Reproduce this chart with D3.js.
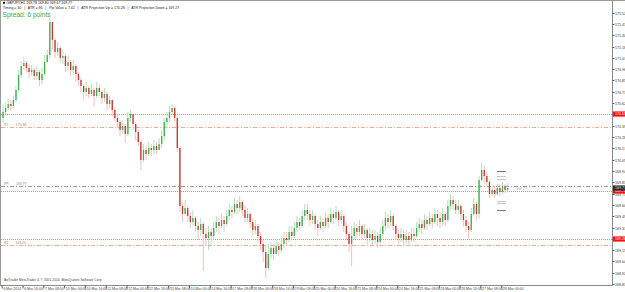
<!DOCTYPE html>
<html>
<head>
<meta charset="utf-8">
<script src="https://cdn.jsdelivr.net/npm/d3@7"></script>
<style>
body { margin: 0; background: #fff; }
svg { display: block; font-family: "Liberation Sans", Arial, sans-serif; }
</style>
</head>
<body>
<svg></svg>
<script>
var width = 625;
var height = 292;

// header / footer texts
var symbolLine = "GBPJPY,H1  169.78 169.80 169.67 169.77";
var infoLine = ["Timing = 30", "ATR = 86", "Pip Value = 7.42", "ATR Projection Up = 170.28", "ATR Projection Down = 169.27"];
var spreadText = "Spread: 6 points";
var copyright = "AxiTrader MetaTrader 4, \u00a9 2001-2014, MetaQuotes Software Corp.";

// H1 candles (2 bars merged per drawn candle)
var firstOpen = 170.47;
var closes = [170.53,170.57,170.61,170.59,170.65,170.75,170.90,170.99,171.02,170.97,
  170.93,170.95,170.89,170.93,170.85,170.91,171.03,171.10,171.43,171.25,
  171.13,171.17,171.07,171.09,170.99,171.03,170.95,170.99,170.91,170.85,
  170.79,170.73,170.77,170.71,170.75,170.69,170.77,170.73,170.67,170.71,
  170.61,170.65,170.55,170.47,170.43,170.35,170.39,170.31,170.47,170.51,
  170.41,170.33,170.23,170.05,170.15,170.11,170.17,170.15,170.19,170.15,
  170.21,170.29,170.43,170.47,170.53,170.57,170.47,170.17,169.59,169.51,
  169.57,169.49,169.43,169.47,169.39,169.35,169.41,169.31,169.27,169.33,
  169.29,169.37,169.43,169.39,169.45,169.41,169.49,169.55,169.53,169.61,
  169.57,169.63,169.55,169.47,169.51,169.43,169.35,169.39,169.29,169.21,
  169.13,168.97,169.11,169.17,169.11,169.19,169.15,169.21,169.27,169.25,
  169.33,169.29,169.37,169.43,169.39,169.49,169.55,169.51,169.45,169.49,
  169.41,169.37,169.43,169.39,169.47,169.43,169.51,169.47,169.53,169.45,
  169.49,169.39,169.31,169.21,169.29,169.37,169.33,169.39,169.31,169.35,
  169.27,169.31,169.25,169.29,169.23,169.31,169.39,169.47,169.43,169.49,
  169.39,169.31,169.27,169.31,169.25,169.29,169.25,169.31,169.29,169.37,
  169.41,169.37,169.45,169.41,169.47,169.43,169.51,169.47,169.43,169.51,
  169.45,169.59,169.65,169.61,169.55,169.59,169.51,169.45,169.39,169.35,
  169.51,169.61,169.51,169.85,169.95,169.89,169.83,169.71,169.75,169.71,
  169.77,169.73,169.79,169.75,169.77];
var highs = [170.61,170.62,170.66,170.65,170.69,170.79,170.95,171.04,171.08,171.04,
  171.01,171.00,170.97,170.99,170.95,170.97,171.10,171.15,171.47,171.39,
  171.27,171.23,171.19,171.15,171.11,171.09,171.05,171.05,171.01,170.93,
  170.87,170.81,170.83,170.79,170.81,170.77,170.83,170.81,170.75,170.77,
  170.73,170.69,170.65,170.57,170.51,170.45,170.45,170.41,170.53,170.55,
  170.51,170.43,170.35,170.25,170.21,170.19,170.23,170.21,170.25,170.23,
  170.27,170.35,170.47,170.53,170.59,170.61,170.59,170.49,170.19,169.63,
  169.65,169.59,169.53,169.55,169.49,169.43,169.47,169.43,169.37,169.39,
  169.37,169.43,169.49,169.47,169.51,169.49,169.55,169.61,169.59,169.67,
  169.65,169.69,169.65,169.59,169.57,169.53,169.47,169.45,169.41,169.33,
  169.25,169.19,169.21,169.23,169.21,169.25,169.23,169.27,169.33,169.33,
  169.39,169.39,169.43,169.49,169.47,169.55,169.61,169.61,169.55,169.55,
  169.51,169.45,169.49,169.47,169.53,169.51,169.57,169.55,169.59,169.55,
  169.55,169.51,169.43,169.33,169.39,169.43,169.41,169.45,169.41,169.41,
  169.37,169.37,169.35,169.35,169.33,169.37,169.45,169.53,169.51,169.55,
  169.51,169.41,169.35,169.37,169.35,169.35,169.33,169.37,169.37,169.43,
  169.47,169.45,169.51,169.49,169.53,169.51,169.57,169.55,169.53,169.57,
  169.53,169.65,169.71,169.69,169.65,169.65,169.61,169.55,169.49,169.43,
  169.57,169.67,169.63,169.89,170.02,169.99,169.93,169.85,169.79,169.79,
  169.81,169.81,169.83,169.81,169.82];
var lows = [170.43,170.51,170.55,170.54,170.57,170.63,170.73,170.87,170.95,170.93,
  170.87,170.89,170.85,170.85,170.79,170.81,170.89,171.02,171.07,171.15,
  171.07,171.09,171.03,171.01,170.93,170.95,170.89,170.91,170.83,170.79,
  170.73,170.65,170.69,170.67,170.69,170.59,170.67,170.69,170.61,170.63,
  170.55,170.57,170.49,170.43,170.37,170.29,170.31,170.22,170.29,170.43,
  170.35,170.25,170.19,169.95,170.03,170.05,170.09,170.09,170.11,170.11,
  170.15,170.17,170.25,170.37,170.43,170.51,170.43,170.13,169.53,169.43,
  169.49,169.43,169.37,169.39,169.33,169.25,169.29,168.94,169.19,169.15,
  169.21,169.25,169.33,169.31,169.37,169.33,169.39,169.45,169.47,169.51,
  169.51,169.53,169.49,169.43,169.43,169.37,169.29,169.31,169.23,169.15,
  169.03,168.87,168.95,169.07,169.05,169.11,169.09,169.13,169.17,169.19,
  169.23,169.25,169.27,169.33,169.35,169.37,169.45,169.45,169.39,169.41,
  169.35,169.29,169.35,169.33,169.37,169.37,169.41,169.41,169.45,169.39,
  169.41,169.33,169.25,169.13,168.99,169.25,169.27,169.29,169.25,169.27,
  169.21,169.23,169.19,169.21,169.17,169.21,169.29,169.35,169.37,169.39,
  169.35,169.25,169.21,169.23,169.19,169.21,169.19,169.23,169.23,169.27,
  169.33,169.31,169.35,169.35,169.39,169.37,169.41,169.39,169.37,169.39,
  169.39,169.43,169.55,169.55,169.51,169.51,169.45,169.39,169.33,169.27,
  169.33,169.49,169.45,169.47,169.83,169.81,169.79,169.67,169.69,169.67,
  169.69,169.69,169.71,169.72,169.73];

var timeLabels = ["6 Mar 2014","6 Mar 16:00","7 Mar 08:00","10 Mar 00:00","10 Mar 16:00",
  "11 Mar 08:00","12 Mar 00:00","12 Mar 16:00","13 Mar 08:00","14 Mar 00:00",
  "14 Mar 16:00","17 Mar 08:00","18 Mar 00:00","18 Mar 16:00","19 Mar 08:00",
  "20 Mar 00:00","20 Mar 16:00","21 Mar 08:00","24 Mar 00:00","24 Mar 16:00",
  "25 Mar 08:00","26 Mar 00:00","26 Mar 16:00","27 Mar 08:00","28 Mar 00:00"];
var priceTicks = [171.52,171.41,171.30,171.18,171.07,170.96,170.85,170.73,170.62,170.51,
  170.39,170.28,170.17,170.05,169.94,169.83,169.71,169.60,169.49,169.37,
  169.26,169.15,169.04,168.92,168.81];

var bidPrice = 169.77;
var redLevels = [170.51, 169.74, 169.26];
var pivotNames = ["R1", "PP", "S1"];
var pivotValues = [170.38, 169.79, 169.20];
var markValues = [169.94, 169.89, 169.86, 169.64, 169.62, 169.55];
var markDark = [true, false, false, false, false, true];

var svg = d3.select("svg")
  .attr("width", width)
  .attr("height", height);

var plotRight = 612.5, plotBottom = 285.5;
var narrow = "Liberation Sans Narrow, Liberation Sans, Arial, sans-serif";

var x = d3.scaleLinear().domain([0, 234.6]).range([1.7, 612]);
var y = d3.scaleLinear().domain([168.80, 171.64]).range([285, 1]);

var bars = closes.map(function(c, i) {
  var o = i ? closes[i - 1] : firstOpen;
  return { i: i, o: o, c: c, h: Math.max(highs[i], o, c), l: Math.min(lows[i], o, c) };
});

// frame
svg.append("line").attr("x1", 0).attr("x2", width).attr("y1", 0.5).attr("y2", 0.5)
  .attr("stroke", "#9a9a9a");
svg.append("line").attr("x1", 0.5).attr("x2", 0.5).attr("y1", 0).attr("y2", plotBottom)
  .attr("stroke", "#9a9a9a");

// level lines
svg.selectAll(".red-level").data(redLevels).enter().append("line")
  .attr("class", "red-level")
  .attr("x1", 1).attr("x2", plotRight)
  .attr("y1", function(d) { return Math.round(y(d)) + 0.5; })
  .attr("y2", function(d) { return Math.round(y(d)) + 0.5; })
  .attr("stroke", "#ff7a7a")
  .attr("stroke-dasharray", "1,1")
  .attr("shape-rendering", "crispEdges");

svg.selectAll(".pivot").data(pivotValues).enter().append("line")
  .attr("class", "pivot")
  .attr("x1", 1).attr("x2", plotRight)
  .attr("y1", function(d) { return Math.round(y(d)) + 0.5; })
  .attr("y2", function(d) { return Math.round(y(d)) + 0.5; })
  .attr("stroke", function(d, i) { return i == 1 ? "#999" : "#f7a98a"; })
  .attr("stroke-dasharray", "4,2,1,2")
  .attr("shape-rendering", "crispEdges");

svg.selectAll(".pivot-label").data(pivotValues).enter().append("text")
  .attr("class", "pivot-label")
  .attr("x", 4).attr("y", function(d) { return y(d) - 1; })
  .attr("font-size", 3.4).attr("fill", "#888")
  .attr("xml:space", "preserve")
  .text(function(d, i) { return pivotNames[i] + "        " + d.toFixed(2); });

// candles
var candle = svg.selectAll(".candle").data(bars).enter().append("g")
  .attr("class", "candle");

candle.append("line")
  .attr("x1", function(d) { return x(d.i + 0.5); })
  .attr("x2", function(d) { return x(d.i + 0.5); })
  .attr("y1", function(d) { return y(d.h); })
  .attr("y2", function(d) { return y(d.l); })
  .attr("stroke", function(d) { return d.c >= d.o ? "#9fd8a6" : "#eeb0b0"; })
  .attr("stroke-width", 0.8);

candle.append("rect")
  .attr("x", function(d) { return x(d.i + 0.5) - 0.65; })
  .attr("width", 1.3)
  .attr("y", function(d) { return y(Math.max(d.o, d.c)); })
  .attr("height", function(d) { return Math.max(0.6, Math.abs(y(d.o) - y(d.c))); })
  .attr("fill", function(d) { return d.c >= d.o ? "#3fae4c" : "#c83232"; });

// short level marks near last bars
svg.selectAll(".mark").data(markValues).enter().append("line")
  .attr("class", "mark")
  .attr("x1", 497).attr("x2", 506)
  .attr("y1", function(d) { return Math.round(y(d)) + 0.5; })
  .attr("y2", function(d) { return Math.round(y(d)) + 0.5; })
  .attr("stroke", function(d, i) { return markDark[i] ? "#777" : "#c8c8c8"; })
  .attr("shape-rendering", "crispEdges");

svg.append("text").attr("x", 512).attr("y", y(bidPrice) + 1.5)
  .attr("font-size", 3.4).attr("fill", "#aaa")
  .text("\u2190 " + bidPrice.toFixed(2));

// axes
var timeAxis = d3.axisBottom(x)
  .tickValues(d3.range(timeLabels.length).map(function(k) { return k * 8; }))
  .tickFormat(function(d, i) { return timeLabels[i]; })
  .tickSize(3);

var gx = svg.append("g").attr("transform", "translate(0," + plotBottom + ")").call(timeAxis);
gx.select(".domain").attr("d", "M0,0H" + plotRight).attr("stroke", "#8c8c8c");
gx.selectAll(".tick line").attr("stroke", "#555");
gx.selectAll(".tick text").attr("font-size", 3.5).attr("fill", "#444")
  .attr("text-anchor", "start").attr("x", 1.2).attr("y", 2.2).attr("dy", "0.71em")
  .attr("font-family", "Liberation Sans, Arial, sans-serif");

var priceAxis = d3.axisRight(y)
  .tickValues(priceTicks)
  .tickFormat(d3.format(".2f"))
  .tickSize(2);

var gy = svg.append("g").attr("transform", "translate(" + plotRight + ",0)").call(priceAxis);
gy.select(".domain").attr("d", "M0,0V" + plotBottom).attr("stroke", "#8c8c8c");
gy.selectAll(".tick line").attr("stroke", "#555");
gy.selectAll(".tick text").attr("font-size", 3.6).attr("fill", "#333").attr("x", 2.6)
  .attr("font-family", narrow);

// price tags on the axis
var tags = redLevels.map(function(v) { return { v: v, fill: "#ff1010", color: "#fff" }; });
tags.push({ v: bidPrice, fill: "#2b2b2b", color: "#ddd" });

var tag = svg.selectAll(".tag").data(tags).enter().append("g")
  .attr("class", "tag")
  .attr("transform", function(d) { return "translate(" + (plotRight + 0.5) + "," + y(d.v) + ")"; });
tag.append("rect").attr("x", 0).attr("y", -2.6).attr("width", 12).attr("height", 5.2)
  .attr("fill", function(d) { return d.fill; });
tag.append("text").attr("x", 2.1).attr("y", 1.3).attr("font-size", 3.6)
  .attr("font-family", narrow)
  .attr("fill", function(d) { return d.color; })
  .text(function(d) { return d.v.toFixed(2); });

// header
svg.append("rect").attr("x", 3).attr("y", 1.8).attr("width", 2).attr("height", 2).attr("fill", "#111");
svg.append("text").attr("x", 6.5).attr("y", 4.2).attr("font-size", 3.5).attr("fill", "#111")
  .text(symbolLine);
svg.append("text").attr("x", 3).attr("y", 9).attr("font-size", 3.5).attr("fill", "#222")
  .attr("xml:space", "preserve")
  .text(infoLine.join("   |   "));
svg.append("text").attr("x", 2.5).attr("y", 16.5).attr("font-size", 6.6).attr("fill", "#3aa843")
  .text(spreadText);

svg.append("text").attr("x", 4).attr("y", 281).attr("font-size", 3.3).attr("fill", "#444")
  .text(copyright);
</script>
</body>
</html>
